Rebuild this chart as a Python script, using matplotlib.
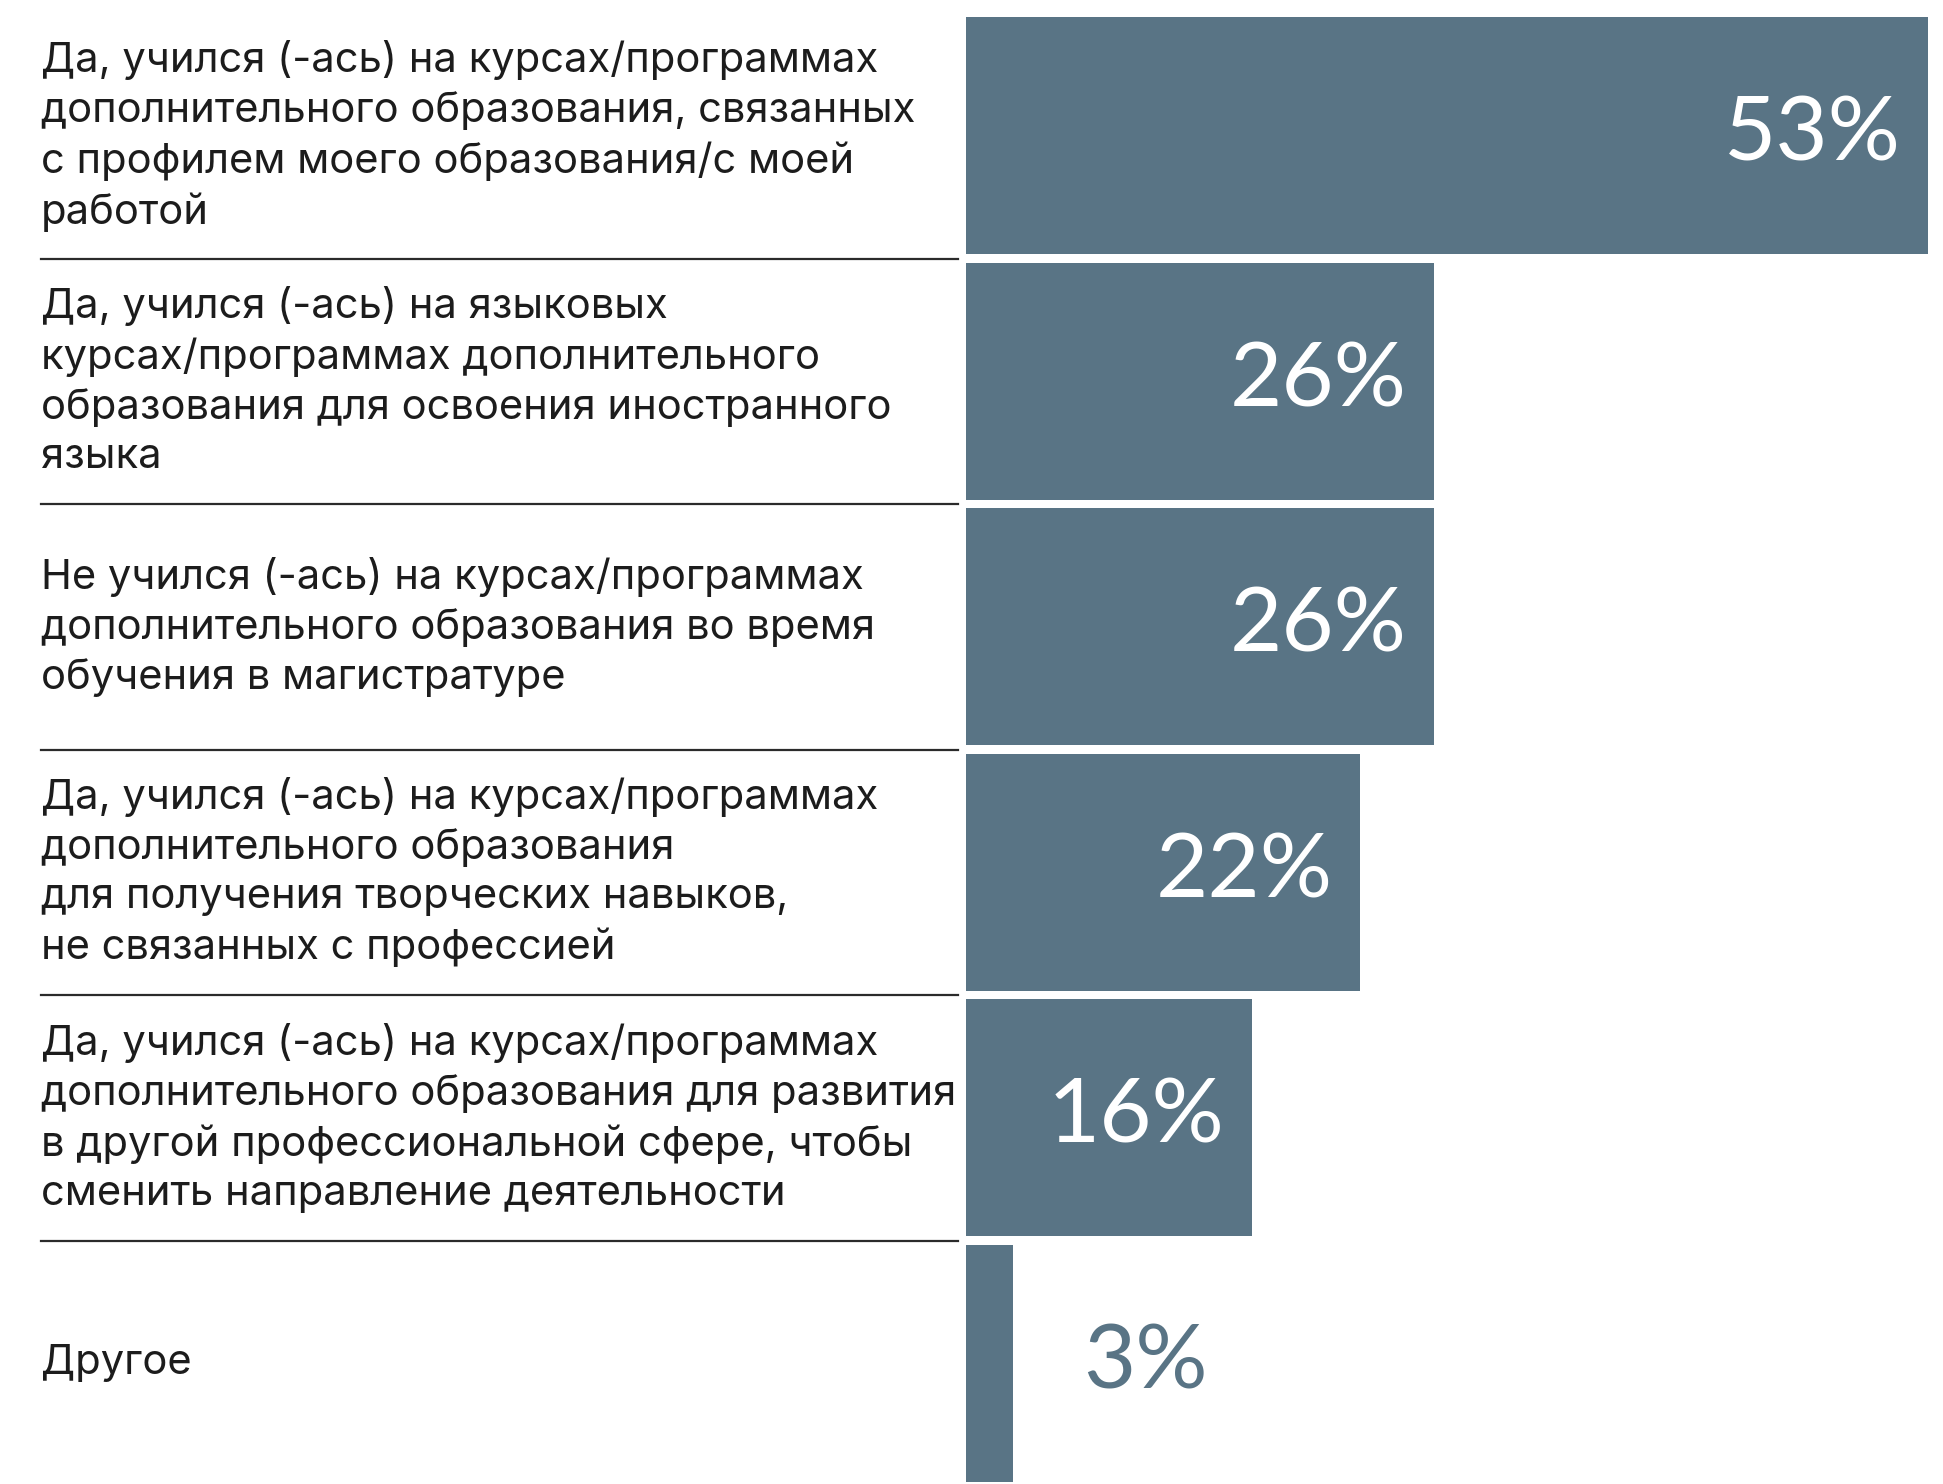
import matplotlib.pyplot as plt
import matplotlib.transforms as mtransforms

# data
labels = [
    "Да, учился (-ась) на курсах/программах\nдополнительного образования, связанных\nс профилем моего образования/с моей\nработой",
    "Да, учился (-ась) на языковых\nкурсах/программах дополнительного\nобразования для освоения иностранного\nязыка",
    "Не учился (-ась) на курсах/программах\nдополнительного образования во время\nобучения в магистратуре",
    "Да, учился (-ась) на курсах/программах\nдополнительного образования\nдля получения творческих навыков,\nне связанных с профессией",
    "Да, учился (-ась) на курсах/программах\nдополнительного образования для развития\nв другой профессиональной сфере, чтобы\nсменить направление деятельности",
    "Другое",
]
values = [53.2, 25.9, 25.9, 21.8, 15.8, 2.6]
value_labels = ["53%", "26%", "26%", "22%", "16%", "3%"]

BAR = "#597485"
TEXT = "#1c1c1c"

plt.rcParams['font.family'] = ['Inter', 'DejaVu Sans']

fig = plt.figure(figsize=(19.43, 14.84), dpi=100)
ax = fig.add_axes([966 / 1943, -2 / 1484, 962 / 1943, 1473 / 1484])

ypos = list(range(len(values)))
ax.barh(ypos, values, height=0.967, color=BAR)
ax.set_xlim(0, max(values))
ax.set_ylim(len(values) - 0.5, -0.5)
ax.axis("off")

# value labels
for y, v, s in zip(ypos, values, value_labels):
    if v >= 10:
        ax.text(v - 1.5, y, s, ha="right", va="center", color="white",
                fontsize=65, family=["Lato", "DejaVu Sans"])
    else:
        ax.text(v + 3.9, y, s, ha="left", va="center", color=BAR,
                fontsize=65, family=["Lato", "DejaVu Sans"])

# category labels and separators on the left
trans = mtransforms.blended_transform_factory(fig.transFigure, ax.transData)
for y, lab in zip(ypos, labels):
    ax.text(41 / 1943, y, lab, transform=trans, ha="left", va="center",
            color=TEXT, fontsize=30, linespacing=1.36, clip_on=False)
for y in ypos[:-1]:
    ax.plot([41 / 1943, 958 / 1943], [y + 0.5, y + 0.5], transform=trans,
            color="#2b2b2b", lw=1.6, clip_on=False)

plt.savefig("out.png", dpi=100)
